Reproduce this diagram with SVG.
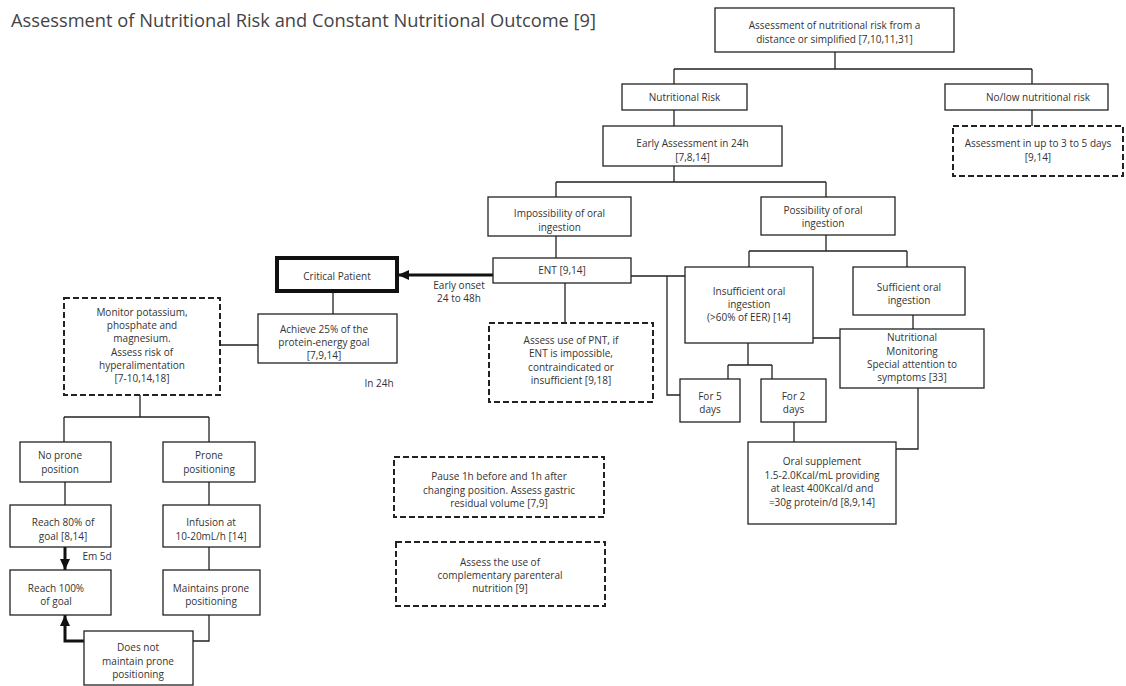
<svg xmlns="http://www.w3.org/2000/svg" width="1126" height="686" viewBox="0 0 1126 686">
<defs>
<style>
text{font-family:"Open Sans","Noto Sans",sans-serif;font-size:10px;fill:#333;text-anchor:middle}
.title{font-size:18.3px;text-anchor:start;fill:#444}
.box{fill:#fff;stroke:#222;stroke-width:1.3}
.dash{fill:#fff;stroke:#222;stroke-width:2;stroke-dasharray:6 3}
.crit{fill:#fff;stroke:#111;stroke-width:4}
.ln{fill:none;stroke:#222;stroke-width:1.3}
.thick{fill:none;stroke:#111;stroke-width:3}
</style>
<marker id="ah" markerUnits="userSpaceOnUse" markerWidth="12" markerHeight="12" viewBox="0 0 12 12" refX="11" refY="6" orient="auto">
<path d="M0,1 L11,6 L0,11 Z" fill="#111"/>
</marker>
</defs>
<rect width="1126" height="686" fill="#fff"/>
<text class="title" x="11" y="27">Assessment of Nutritional Risk and Constant Nutritional Outcome [9]</text>
<g id="connectors">
<path class="ln" d="M835 52V69M674 69H1032M674 69V84M1032 69V84M674 110V126M1032 110V126"/>
<path class="ln" d="M674 166V182M556 182H826M556 182V197M826 182V197M556 236V258"/>
<path class="ln" d="M826 235V251M749 251H907M749 251V267M907 251V267"/>
<path class="ln" d="M631 276H685M667 276V395H680"/>
<path class="ln" d="M748 343V365M728 365H772M728 365V379M772 365V379M794 422V442"/>
<path class="ln" d="M813 338H840M913 315V329M918 388V449H896"/>
<path class="ln" d="M565 283V323"/>
<path class="thick" d="M493 275H398" marker-end="url(#ah)"/>
<path class="ln" d="M333 291V314M220 345H258"/>
<path class="ln" d="M140 395V417M64 417H209M64 417V442M209 417V442M65 482V505M209 482V505M209 547V570M209 615V641H193"/>
<path class="thick" d="M65 547V570" marker-end="url(#ah)"/>
<path class="thick" d="M84 641H65V615" marker-end="url(#ah)"/>
<text x="459" y="288.5">Early onset</text>
<text x="459" y="301.5">24 to 48h</text>
<text x="379" y="387">In 24h</text>
<text x="97" y="560">Em 5d</text>
</g>
<g id="n_top"><rect class="box" x="715" y="8" width="239" height="44"/><text x="834.5" y="28.5">Assessment of nutritional risk from a</text><text x="834.5" y="42.5">distance or simplified [7,10,11,31]</text></g>
<g id="n_risk"><rect class="box" x="622" y="84" width="125" height="26"/><text x="684.5" y="100.5">Nutritional Risk</text></g>
<g id="n_nolow"><rect class="box" x="945" y="84" width="163" height="26"/><text x="1038" y="100.5">No/low nutritional risk</text></g>
<g id="n_early"><rect class="box" x="603" y="126" width="179" height="40"/><text x="692.5" y="146.5">Early Assessment in 24h</text><text x="692.5" y="160.5">[7,8,14]</text></g>
<g id="n_3to5"><rect class="dash" x="953" y="126" width="170" height="50"/><text x="1038" y="146.5">Assessment in up to 3 to 5 days</text><text x="1038" y="160.5">[9,14]</text></g>
<g id="n_imp"><rect class="box" x="488" y="197" width="143" height="39"/><text x="559.5" y="216.5">Impossibility of oral</text><text x="559.5" y="230.5">ingestion</text></g>
<g id="n_pos"><rect class="box" x="761" y="197" width="134" height="38"/><text x="823" y="213.5">Possibility of oral</text><text x="823" y="226.5">ingestion</text></g>
<g id="n_ent"><rect class="box" x="493" y="258" width="138" height="25"/><text x="562" y="273.5">ENT [9,14]</text></g>
<g id="n_crit"><rect class="crit" x="277" y="258" width="120" height="33"/><text x="337" y="279.5">Critical Patient</text></g>
<g id="n_achieve"><rect class="box" x="258" y="314" width="139" height="49"/><text x="324" y="332.5">Achieve 25% of the</text><text x="324" y="345.5">protein-energy goal</text><text x="324" y="358.5">[7,9,14]</text></g>
<g id="n_pnt"><rect class="dash" x="489" y="323" width="164" height="79"/><text x="571" y="343.5">Assess use of PNT, if</text><text x="571" y="357">ENT is impossible,</text><text x="571" y="370.5">contraindicated or</text><text x="571" y="384">insufficient [9,18]</text></g>
<g id="n_insuf"><rect class="box" x="685" y="267" width="128" height="76"/><text x="749" y="294.5">Insufficient oral</text><text x="749" y="307.5">ingestion</text><text x="749" y="320.5">(&gt;60% of EER) [14]</text></g>
<g id="n_suf"><rect class="box" x="853" y="267" width="112" height="48"/><text x="909" y="290.5">Sufficient oral</text><text x="909" y="303.5">ingestion</text></g>
<g id="n_mon"><rect class="box" x="840" y="329" width="144" height="59"/><text x="912" y="340.5">Nutritional</text><text x="912" y="354.5">Monitoring</text><text x="912" y="367.5">Special attention to</text><text x="912" y="380.5">symptoms [33]</text></g>
<g id="n_for5"><rect class="box" x="680" y="379" width="60" height="43"/><text x="710" y="399.5">For 5</text><text x="710" y="412.5">days</text></g>
<g id="n_for2"><rect class="box" x="761" y="379" width="65" height="43"/><text x="793.5" y="399.5">For 2</text><text x="793.5" y="412.5">days</text></g>
<g id="n_oral"><rect class="box" x="748" y="442" width="148" height="82"/><text x="822" y="464.5">Oral supplement</text><text x="822" y="478.5">1.5-2.0Kcal/mL providing</text><text x="822" y="491.5">at least 400Kcal/d and</text><text x="822" y="505.5">=30g protein/d [8,9,14]</text></g>
<g id="n_monitor"><rect class="dash" x="64" y="298" width="156" height="97"/><text x="142" y="315.5">Monitor potassium,</text><text x="142" y="328.5">phosphate and</text><text x="142" y="342">magnesium.</text><text x="142" y="355.5">Assess risk of</text><text x="142" y="368.5">hyperalimentation</text><text x="142" y="382">[7-10,14,18]</text></g>
<g id="n_noprone"><rect class="box" x="20" y="442" width="91" height="40"/><text x="60" y="458.5">No prone</text><text x="60" y="472.5">position</text></g>
<g id="n_prone"><rect class="box" x="163" y="442" width="92" height="40"/><text x="209" y="458.5">Prone</text><text x="209" y="472.5">positioning</text></g>
<g id="n_r80"><rect class="box" x="10" y="505" width="101" height="42"/><text x="63" y="525.5">Reach 80% of</text><text x="63" y="539.5">goal [8,14]</text></g>
<g id="n_inf"><rect class="box" x="163" y="505" width="97" height="42"/><text x="211" y="525.5">Infusion at</text><text x="211" y="539.5">10-20mL/h [14]</text></g>
<g id="n_r100"><rect class="box" x="10" y="570" width="101" height="45"/><text x="56" y="591.5">Reach 100%</text><text x="56" y="604.5">of goal</text></g>
<g id="n_maint"><rect class="box" x="163" y="570" width="97" height="45"/><text x="211" y="591.5">Maintains prone</text><text x="211" y="604.5">positioning</text></g>
<g id="n_notmaint"><rect class="box" x="84" y="631" width="109" height="54"/><text x="138" y="650.5">Does not</text><text x="138" y="664.5">maintain prone</text><text x="138" y="677.5">positioning</text></g>
<g id="n_pause"><rect class="dash" x="394" y="457" width="210" height="60"/><text x="499" y="479.5">Pause 1h before and 1h after</text><text x="499" y="493.5">changing position. Assess gastric</text><text x="499" y="506.5">residual volume [7,9]</text></g>
<g id="n_comp"><rect class="dash" x="396" y="542" width="209" height="64"/><text x="500" y="565.5">Assess the use of</text><text x="500" y="578.5">complementary parenteral</text><text x="500" y="591.5">nutrition [9]</text></g>
</svg>
